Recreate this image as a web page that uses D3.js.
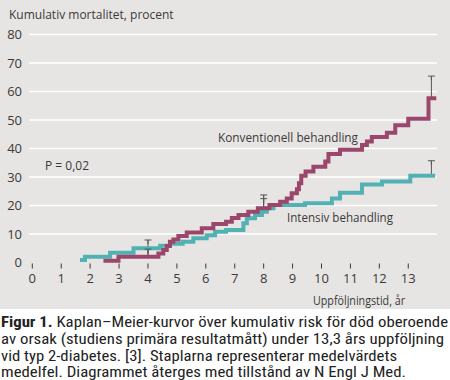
<!DOCTYPE html>
<html><head><meta charset="utf-8">
<script src="https://cdn.jsdelivr.net/npm/d3@7"></script>
<style>
html,body{margin:0;padding:0;background:#fff;}
svg{display:block;}
text{font-family:"Open Sans","Liberation Sans",sans-serif;}
</style></head>
<body>
<svg id="c" width="450" height="380"></svg>
<script>
// ---- data ----
const yTicks = [0,10,20,30,40,50,60,70,80];
const yGrid = [10,20,30,40,50,60,70,80];
const xTicks = [0,1,2,3,4,5,6,7,8,9,10,11,12,13];
// Konventionell behandling: [year, cumulative mortality %]
const convYears  = [2.46,2.98,4.36,4.53,4.65,4.76,4.88,5.05,5.34,5.86,6.26,6.70,6.90,7.13,7.47,7.80,8.20,8.57,8.80,8.97,9.15,9.22,9.30,9.45,9.72,10.13,10.24,10.64,11.40,11.57,11.74,12.26,12.55,13.00,13.70,13.97];
const convValues = [0.6,2.0,3.2,4.4,5.8,7.3,8.1,9.3,10.5,12.0,13.5,14.3,15.6,16.7,17.8,19.0,20.2,21.3,22.5,24.3,25.7,27.8,30.4,31.9,33.6,35.4,38.1,39.6,41.2,42.5,44.0,45.5,48.2,50.4,57.6,57.6];
// Intensiv behandling
const intYears  = [1.65,1.82,2.69,3.50,4.42,4.76,5.20,5.57,6.03,6.32,6.70,7.30,7.42,7.70,7.94,8.11,8.34,9.43,10.36,10.64,11.40,12.09,13.07,13.93];
const intValues = [0.9,2.0,3.4,5.0,5.9,6.6,7.3,8.5,9.6,10.8,11.4,13.8,15.5,16.7,17.8,19.0,20.2,20.8,22.5,24.5,27.4,28.4,30.4,30.4];
// error bars: year, low, high
const errYears = [4, 4, 8, 8, 13.8, 13.8];
const errLow   = [2.2, 2.2, 18.5, 18.5, 57.6, 30.4];
const errHigh  = [7.9, 4.7, 23.7, 22.4, 65.4, 35.7];
const captionLines = [
  ["Figur 1.", " Kaplan–Meier-kurvor över kumulativ risk för död oberoende"],
  ["", "av orsak (studiens primära resultatmått) under 13,3 års uppföljning"],
  ["", "vid typ 2-diabetes. [3]. Staplarna representerar medelvärdets"],
  ["", "medelfel. Diagrammet återges med tillstånd av N Engl J Med."]
];

const svg = d3.select("#c");
const bg = "#e7e5e3";
const textCol = "#3a3a3a";
const convCol = "#9b476b";
const intCol = "#52b2b3";

svg.append("rect").attr("x",0).attr("y",0).attr("width",450).attr("height",309).attr("fill",bg);

const x = d3.scaleLinear().domain([0,14]).range([32.3, 32.3+28.92*14]);
const y = d3.scaleLinear().domain([0,80]).range([262.5, 34.5]);

// gridlines
svg.append("g").selectAll("line").data(yGrid).join("line")
  .attr("x1",29).attr("x2",437)
  .attr("y1",d=>y(d)).attr("y2",d=>y(d))
  .attr("stroke","#ffffff").attr("stroke-width",1.6);

// y tick labels
svg.append("g").selectAll("text").data(yTicks).join("text")
  .attr("x",22).attr("y",d=>y(d)).attr("dy","0.36em")
  .attr("text-anchor","end").attr("font-size",13).attr("fill",textCol)
  .text(d=>d);

// x axis ticks and labels
const xa = svg.append("g");
xa.selectAll("line").data(xTicks).join("line")
  .attr("x1",d=>x(d)).attr("x2",d=>x(d))
  .attr("y1",263.5).attr("y2",268.5)
  .attr("stroke",textCol).attr("stroke-width",1);
xa.selectAll("text").data(xTicks).join("text")
  .attr("x",d=>x(d)).attr("y",283)
  .attr("text-anchor","middle").attr("font-size",13).attr("fill",textCol)
  .text(d=>d);

// titles
svg.append("text").attr("x",9).attr("y",19).attr("font-size",12).attr("fill",textCol)
  .text("Kumulativ mortalitet, procent");
svg.append("text").attr("x",313).attr("y",305).attr("font-size",12).attr("fill",textCol)
  .attr("textLength",92).attr("lengthAdjust","spacingAndGlyphs")
  .text("Uppföljningstid, år");
svg.append("text").attr("x",45).attr("y",170).attr("font-size",12).attr("fill",textCol)
  .text("P = 0,02");
svg.append("text").attr("x",218).attr("y",142).attr("font-size",12.5).attr("fill",textCol)
  .attr("textLength",140).attr("lengthAdjust","spacingAndGlyphs")
  .text("Konventionell behandling");
svg.append("text").attr("x",287).attr("y",222).attr("font-size",12.5).attr("fill",textCol)
  .attr("textLength",106).attr("lengthAdjust","spacingAndGlyphs")
  .text("Intensiv behandling");

// step curves
const line = d3.line().x(d=>x(d[0])).y(d=>y(d[1])).curve(d3.curveStepAfter);
const convData = d3.zip(convYears, convValues);
const intData = d3.zip(intYears, intValues);

// error bars (behind curves)
const eb = svg.append("g");
d3.range(errYears.length).forEach(i=>{
  const ex = x(errYears[i]);
  eb.append("line").attr("x1",ex).attr("x2",ex).attr("y1",y(errLow[i])).attr("y2",y(errHigh[i]))
    .attr("stroke","#555").attr("stroke-width",1);
});

svg.append("path").datum(intData).attr("d",line)
  .attr("fill","none").attr("stroke",intCol).attr("stroke-width",4);
svg.append("path").datum(convData).attr("d",line)
  .attr("fill","none").attr("stroke",convCol).attr("stroke-width",4);

// caps on top
const cap = svg.append("g");
d3.range(errYears.length).forEach(i=>{
  const ex = x(errYears[i]);
  cap.append("line").attr("x1",ex).attr("x2",ex).attr("y1",y(errHigh[i])).attr("y2",y(errHigh[i])+4)
    .attr("stroke","#555").attr("stroke-width",1);
  cap.append("line").attr("x1",ex-3.5).attr("x2",ex+3.5).attr("y1",y(errHigh[i])).attr("y2",y(errHigh[i]))
    .attr("stroke","#555").attr("stroke-width",1);
});

// caption
const capY = [327, 344, 360.5, 377];
const capW = [447, 443, 396, 405];
captionLines.forEach((l,i)=>{
  const t = svg.append("text").attr("x",1).attr("y",capY[i]).attr("font-size",15).attr("fill","#222")
    .attr("textLength",capW[i]).attr("lengthAdjust","spacingAndGlyphs")
    .style("font-family","'Liberation Sans Narrow','Roboto Condensed','Liberation Sans',sans-serif");
  if (l[0]) t.append("tspan").attr("font-weight","bold").text(l[0]);
  t.append("tspan").text(l[1]);
});
</script>
</body></html>
